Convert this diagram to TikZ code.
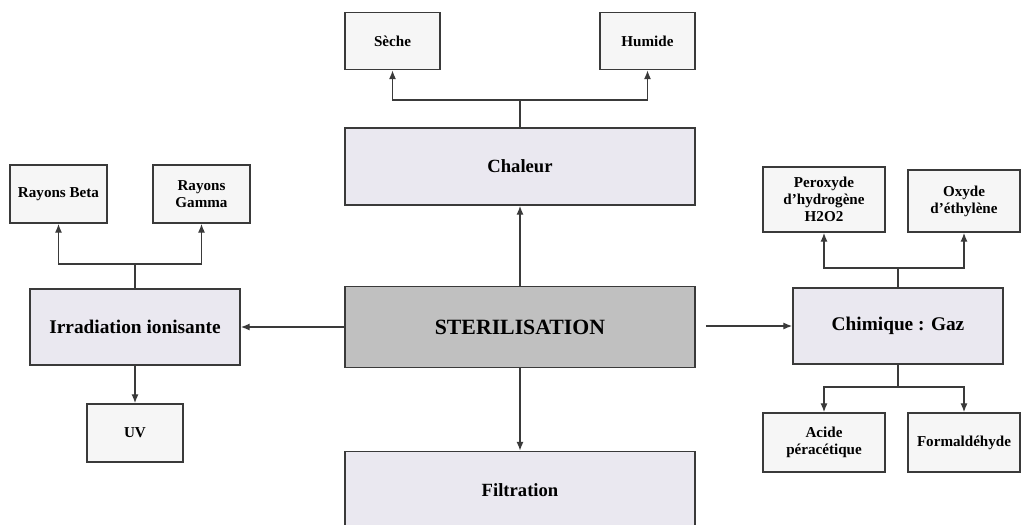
\documentclass[tikz,border=0pt]{standalone}
\usepackage{fontspec}
\setmainfont{Liberation Serif}
\usetikzlibrary{arrows.meta}
\definecolor{boxline}{HTML}{3A3A3A}
\definecolor{lavande}{HTML}{EAE8F0}
\definecolor{blanc}{HTML}{F6F6F6}
\definecolor{gris}{HTML}{C0C0C0}
\begin{document}
\begin{tikzpicture}[
    x=0.02cm, y=-0.02cm,
    petit/.style={draw=boxline, line width=1pt, fill=blanc, align=center, inner sep=1pt,
      font=\fontsize{8.6}{9.6}\selectfont\bfseries},
    grand/.style={draw=boxline, line width=1pt, fill=lavande, align=center,
      font=\fontsize{10.6}{12}\selectfont\bfseries},
    fleche/.style={draw=boxline, line width=0.7pt, -{Latex[length=5pt,width=4pt]}},
    trait/.style={draw=boxline, line width=0.7pt}
  ]
  \useasboundingbox (0,0) rectangle (1023,524);

  % centre
  \node[grand, fill=gris, minimum width=7cm, minimum height=1.62cm,
    font=\fontsize{12.4}{14}\selectfont\bfseries] (steril) at (520,327) {STERILISATION};
  \node[grand, minimum width=7cm, minimum height=1.54cm] (chaleur) at (520,166.5) {Chaleur};
  \node[grand, minimum width=7cm, minimum height=1.54cm] (filt) at (520,490) {Filtration};
  \node[grand, minimum width=4.2cm, minimum height=1.52cm,
    font=\fontsize{11}{12}\selectfont\bfseries] (irrad) at (135,327) {Irradiation ionisante};
  \node[grand, minimum width=4.2cm, minimum height=1.52cm,
    font=\fontsize{11}{12}\selectfont\bfseries] (chim) at (898,326) {Chimique : Gaz};

  % chaleur
  \node[petit, minimum width=1.9cm, minimum height=1.14cm] (seche) at (392.5,41) {Sèche};
  \node[petit, minimum width=1.9cm, minimum height=1.14cm] (humide) at (647.5,41) {Humide};

  % irradiation
  \node[petit, minimum width=1.94cm, minimum height=1.16cm] (beta) at (58.5,194) {Rayons Beta};
  \node[petit, minimum width=1.94cm, minimum height=1.16cm] (gamma) at (201.5,194) {Rayons\\Gamma};
  \node[petit, minimum width=1.92cm, minimum height=1.16cm] (uv) at (135,433) {UV};

  % chimique
  \node[petit, minimum width=2.44cm, minimum height=1.3cm] (perox) at (824,199.5) {Peroxyde\\d'hydrogène\\H2O2};
  \node[petit, minimum width=2.24cm, minimum height=1.24cm] (oxyde) at (964,201) {Oxyde\\d'éthylène};
  \node[petit, minimum width=2.44cm, minimum height=1.18cm] (acide) at (824,442.5) {Acide\\péracétique};
  \node[petit, minimum width=2.24cm, minimum height=1.18cm] (formal) at (964,442.5) {Formaldéhyde};

  % liaisons depuis le centre
  \draw[fleche] (steril) -- (chaleur);
  \draw[fleche] (steril) -- (filt);
  \draw[fleche] (steril) -- (irrad);
  \draw[fleche] ([xshift=0.2cm]steril.east |- chim.west) -- (chim.west);

  % bus
  \coordinate (cbus) at (520,100);
  \coordinate (ibus) at (135,264);
  \coordinate (hbus) at (chim.north |- 0,268);
  \coordinate (bbus) at (chim.south |- 0,387);
  \draw[trait] (chaleur.north) -- (cbus);
  \draw[fleche] (cbus) -| (seche);
  \draw[fleche] (cbus) -| (humide);
  \draw[trait] (irrad.north) -- (ibus);
  \draw[fleche] (ibus) -| (beta);
  \draw[fleche] (ibus) -| (gamma);
  \draw[fleche] (irrad) -- (uv);
  \draw[trait] (chim.north) -- (hbus);
  \draw[fleche] (hbus) -| (perox);
  \draw[fleche] (hbus) -| (oxyde);
  \draw[trait] (chim.south) -- (bbus);
  \draw[fleche] (bbus) -| (acide);
  \draw[fleche] (bbus) -| (formal);
\end{tikzpicture}
\end{document}
